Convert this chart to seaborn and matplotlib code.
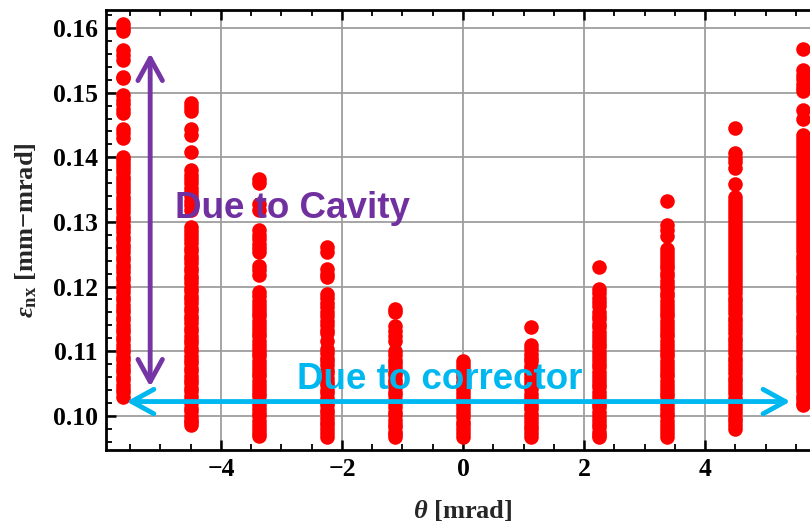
import numpy as np
import pandas as pd
import matplotlib
matplotlib.use("Agg")
import matplotlib.pyplot as plt
from matplotlib.ticker import MultipleLocator, FormatStrFormatter
import seaborn as sns

# Crossing angles (mrad) at which the beam was tracked
theta_values = [-5.625, -4.5, -3.375, -2.25, -1.125, 0.0, 1.125, 2.25, 3.375, 4.5, 5.625]

# Normalised horizontal emittance per crossing angle, in units of 1e-4 mm-mrad
emit_m5625 = [1606, 1600, 1595, 1566, 1559, 1551, 1525, 1523, 1496, 1489, 1482, 1475, 1469,
              1444, 1437, 1430,
              1401, 1396, 1389, 1383, 1377, 1370, 1365, 1358, 1352, 1346, 1339, 1334, 1327,
              1321, 1315, 1308, 1303, 1296, 1290, 1284, 1277, 1272, 1265, 1259, 1253, 1246,
              1241, 1234, 1228, 1222, 1215, 1210, 1203, 1197, 1191, 1184, 1179, 1172, 1166,
              1160, 1153, 1148, 1141, 1135, 1129, 1122, 1117, 1110, 1104, 1098, 1091, 1086,
              1079, 1073, 1067, 1060, 1055, 1048, 1042, 1036, 1029]
emit_m4500 = [1484, 1478, 1471, 1444, 1435, 1408, 1380, 1373, 1366, 1360, 1353, 1346, 1340,
              1333, 1326, 1319,
              1292, 1286, 1279, 1273, 1267, 1260, 1255, 1248, 1242, 1236, 1229, 1224, 1217,
              1211, 1205, 1198, 1193, 1186, 1180, 1174, 1167, 1162, 1155, 1149, 1143, 1136,
              1131, 1124, 1118, 1112, 1105, 1100, 1093, 1087, 1081, 1074, 1069, 1062, 1056,
              1050, 1043, 1038, 1031, 1025, 1019, 1012, 1007, 1000, 994, 990, 986]
emit_m3375 = [1367, 1360, 1328, 1319, 1287, 1280, 1273, 1266, 1259, 1253, 1232, 1225, 1218,
              1191, 1185, 1178, 1172, 1166, 1159, 1154, 1147, 1141, 1135, 1128, 1123, 1116,
              1110, 1104, 1097, 1092, 1085, 1079, 1073, 1066, 1061, 1054, 1048, 1042, 1035,
              1030, 1023, 1017, 1011, 1004, 999, 992, 986, 980, 974, 968]
emit_m2250 = [1261, 1254, 1227, 1220, 1215, 1189, 1182, 1175, 1168, 1161, 1154, 1147, 1140,
              1133, 1128, 1115,
              1103, 1097, 1090, 1084, 1078, 1071, 1066, 1059, 1053, 1047, 1040, 1035, 1028,
              1022, 1016, 1009, 1004, 997, 991, 985, 979, 973, 967]
emit_m1125 = [1165, 1160, 1139, 1131, 1124, 1116,
              1100, 1094, 1087, 1081, 1075, 1068, 1063, 1056, 1050, 1044, 1037, 1032, 1025,
              1019, 1013, 1006, 1001, 994, 988, 982, 975, 971, 967]
emit_p0000 = [1085, 1079, 1072, 1066, 1060, 1053, 1048, 1041, 1035, 1029, 1022, 1017, 1010,
              1004, 998, 991, 986, 979, 973, 967]
emit_p1125 = [1137,
              1109, 1103, 1096, 1090, 1084, 1077, 1072, 1065, 1059, 1053, 1046, 1041, 1034,
              1028, 1022, 1015, 1010, 1003, 997, 991, 984, 979, 973, 967]
emit_p2250 = [1230,
              1196, 1190, 1183, 1176, 1170, 1161, 1155, 1149, 1142, 1137, 1130, 1124, 1118,
              1111, 1106, 1099, 1093, 1087, 1080, 1075, 1068, 1062, 1056, 1049, 1044, 1037,
              1031, 1025, 1018, 1013, 1006, 1000, 994, 987, 982, 975, 970, 967]
emit_p3375 = [1333,
              1295, 1288, 1278, 1258, 1252, 1246, 1240, 1234, 1228, 1221, 1216, 1209, 1203,
              1197, 1190, 1185, 1178, 1172, 1166, 1159, 1154, 1147, 1141, 1135, 1128, 1123,
              1116, 1110, 1104, 1097, 1092, 1085, 1079, 1073, 1066, 1061, 1054, 1048, 1042,
              1035, 1030, 1023, 1017, 1011, 1004, 999, 992, 986, 980, 974, 967]
emit_p4500 = [1445,
              1406, 1399, 1392, 1384, 1359,
              1339, 1333, 1326, 1320, 1314, 1307, 1302, 1295, 1289, 1283, 1276, 1271, 1264,
              1258, 1252, 1245, 1240, 1233, 1227, 1221, 1214, 1209, 1202, 1196, 1190, 1183,
              1178, 1171, 1165, 1159, 1152, 1147, 1140, 1134, 1128, 1121, 1116, 1109, 1103,
              1097, 1090, 1085, 1078, 1072, 1066, 1059, 1054, 1047, 1041, 1035, 1028, 1023,
              1016, 1010, 1004, 997, 992, 986, 980]
emit_p5625 = [1568,
              1535, 1528, 1521, 1514, 1508, 1503, 1473, 1459,
              1435, 1429, 1422, 1416, 1410, 1403, 1398, 1391, 1385, 1379, 1372, 1367, 1360,
              1354, 1348, 1341, 1336, 1329, 1323, 1317, 1310, 1305, 1298, 1292, 1286, 1279,
              1274, 1267, 1261, 1255, 1248, 1243, 1236, 1230, 1224, 1217, 1212, 1205, 1199,
              1193, 1186, 1181, 1174, 1168, 1162, 1155, 1150, 1143, 1137, 1131, 1124, 1119,
              1112, 1106, 1100, 1093, 1088, 1081, 1075, 1069, 1062, 1057, 1050, 1044, 1038,
              1031, 1026, 1020, 1016]

emit_columns = [emit_m5625, emit_m4500, emit_m3375, emit_m2250, emit_m1125, emit_p0000,
                emit_p1125, emit_p2250, emit_p3375, emit_p4500, emit_p5625]

x_ticks = [-4, -2, 0, 2, 4]
y_ticks = [0.10, 0.11, 0.12, 0.13, 0.14, 0.15, 0.16]

cavity_label = "Due to Cavity"
corrector_label = "Due to corrector"

rows = [(t, e / 1e4) for t, col in zip(theta_values, emit_columns) for e in col]
df = pd.DataFrame(rows, columns=["theta", "emit"])

sns.set_theme(style="white")
plt.rcParams["font.family"] = ["Liberation Serif", "DejaVu Serif"]
plt.rcParams["font.weight"] = "bold"
plt.rcParams["mathtext.fontset"] = "custom"
plt.rcParams["mathtext.rm"] = "Liberation Serif"
plt.rcParams["mathtext.it"] = "Liberation Serif:italic:bold"
plt.rcParams["mathtext.bf"] = "Liberation Serif:bold"
plt.rcParams["mathtext.fallback"] = "stix"

fig = plt.figure(figsize=(8.1, 5.28), dpi=100)
ax = fig.add_axes([106 / 810, 78 / 528, 714 / 810, 440 / 528])

sns.scatterplot(data=df, x="theta", y="emit", color="#FF0000", s=110,
                linewidth=0, alpha=1.0, ax=ax, zorder=3, legend=False)

ax.set_xlim(-5.9, 5.9)
ax.set_ylim(0.0947, 0.1628)
ax.set_xticks(x_ticks)
ax.set_yticks(y_ticks)
ax.xaxis.set_minor_locator(MultipleLocator(0.5))
ax.yaxis.set_minor_locator(MultipleLocator(0.002))
ax.yaxis.set_major_formatter(FormatStrFormatter("%.2f"))

ax.grid(True, which="major", color="#9E9E9E", linewidth=1.3)
ax.set_axisbelow(True)

for side in ("left", "bottom", "top"):
    ax.spines[side].set_visible(True)
    ax.spines[side].set_color("black")
    ax.spines[side].set_linewidth(2.0)
ax.spines["right"].set_visible(False)

ax.tick_params(which="both", direction="in", top=True, bottom=True, left=True,
               right=False, colors="black")
ax.tick_params(which="major", length=7, width=1.8, labelsize=18.5, pad=6)
ax.tick_params(which="minor", length=4, width=1.3)
for lbl in ax.get_xticklabels() + ax.get_yticklabels():
    lbl.set_fontweight("bold")

ax.set_xlabel(r"$\theta$ [mrad]", fontsize=19, fontweight="bold", labelpad=12)
ax.set_ylabel(r"$\epsilon_{\mathrm{nx}}$ [mm$-$mrad]", fontsize=19,
              fontweight="bold", labelpad=10)

# Vertical spread attributed to the crab cavity
purple = "#7535A5"
ax.annotate("", xy=(-5.17, 0.1561), xytext=(-5.17, 0.1045),
            arrowprops=dict(arrowstyle="<->,head_length=0.4,head_width=0.22",
                            color=purple, lw=3.5, mutation_scale=40,
                            shrinkA=0, shrinkB=0), zorder=4)
ax.text(-4.76, 0.1306, cavity_label, color="#7030A0", fontsize=26.5,
        fontweight="bold", family=["Liberation Sans", "DejaVu Sans"],
        ha="left", va="baseline", zorder=5)

# Horizontal range attributed to the corrector setting
cyan = "#00B8F0"
ax.annotate("", xy=(5.41, 0.1022), xytext=(-5.56, 0.1022),
            arrowprops=dict(arrowstyle="<->,head_length=0.4,head_width=0.22",
                            color=cyan, lw=3.5, mutation_scale=40,
                            shrinkA=0, shrinkB=0), zorder=4)
ax.text(-2.74, 0.1042, corrector_label, color=cyan, fontsize=26.5,
        fontweight="bold", family=["Liberation Sans", "DejaVu Sans"],
        ha="left", va="baseline", zorder=5)

fig.savefig("out.png", dpi=100)
